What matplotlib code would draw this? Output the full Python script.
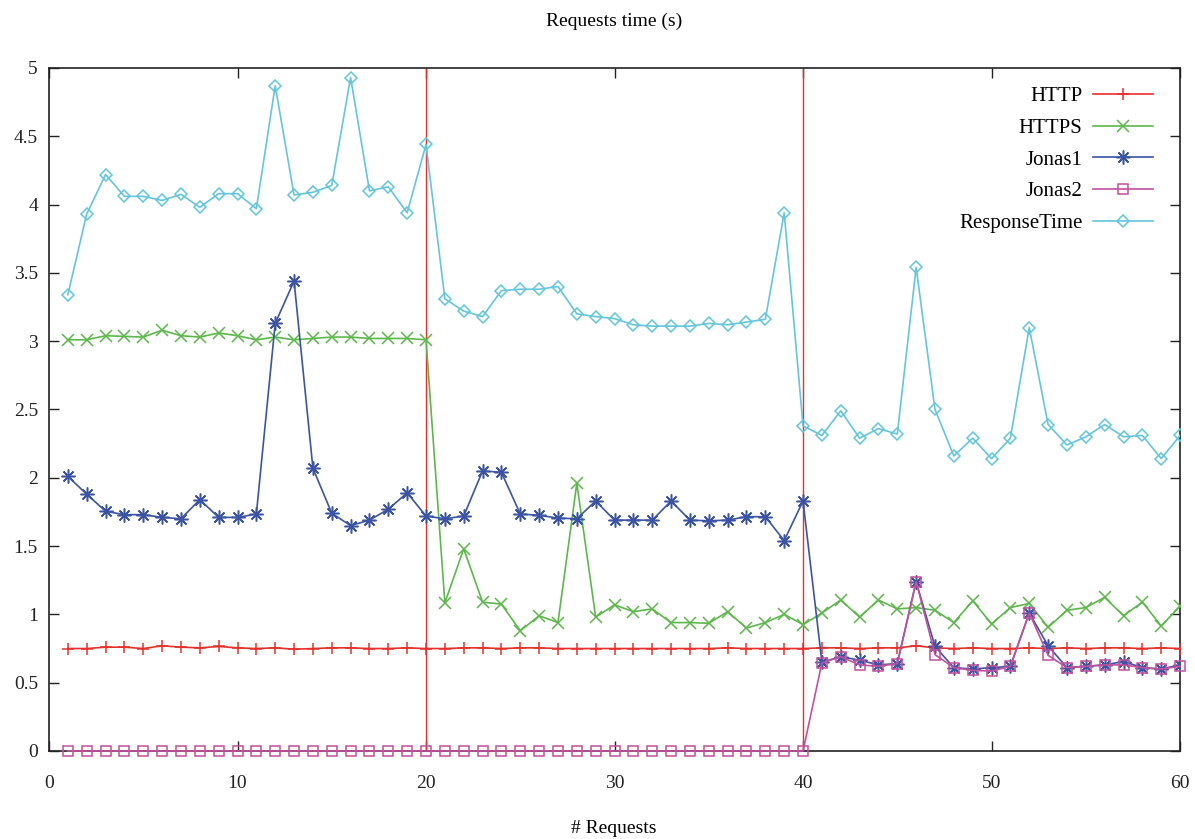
import matplotlib
matplotlib.use("Agg")
import matplotlib.pyplot as plt

plt.rcParams['font.family'] = ['Liberation Serif', 'DejaVu Serif']

x = list(range(1, 61))

http = [0.75, 0.75, 0.76, 0.76, 0.75, 0.77, 0.76, 0.755, 0.765, 0.755,
        0.75, 0.755, 0.745, 0.75, 0.755, 0.755, 0.75, 0.75, 0.755, 0.75,
        0.75, 0.755, 0.755, 0.75, 0.755, 0.755, 0.75, 0.75, 0.75, 0.75,
        0.75, 0.75, 0.75, 0.75, 0.75, 0.755, 0.75, 0.75, 0.75, 0.75,
        0.755, 0.755, 0.75, 0.755, 0.755, 0.77, 0.755, 0.75, 0.755, 0.75,
        0.75, 0.755, 0.75, 0.755, 0.75, 0.755, 0.755, 0.75, 0.755, 0.75]

https = [3.01, 3.01, 3.04, 3.035, 3.03, 3.08, 3.04, 3.03, 3.06, 3.04,
         3.01, 3.03, 3.01, 3.02, 3.03, 3.03, 3.02, 3.02, 3.02, 3.01,
         1.085, 1.48, 1.09, 1.075, 0.88, 0.99, 0.94, 1.96, 0.98, 1.07,
         1.02, 1.04, 0.94, 0.94, 0.935, 1.02, 0.90, 0.94, 1.00, 0.925,
         1.01, 1.105, 0.98, 1.105, 1.04, 1.05, 1.03, 0.94, 1.10, 0.93,
         1.05, 1.08, 0.905, 1.03, 1.05, 1.125, 0.99, 1.09, 0.915, 1.06]

jonas1 = [2.01, 1.88, 1.755, 1.73, 1.73, 1.71, 1.70, 1.84, 1.71, 1.71,
          1.735, 3.13, 3.44, 2.07, 1.74, 1.65, 1.69, 1.77, 1.89, 1.72,
          1.70, 1.72, 2.05, 2.04, 1.735, 1.725, 1.705, 1.70, 1.83, 1.69,
          1.69, 1.69, 1.83, 1.69, 1.685, 1.69, 1.715, 1.715, 1.54, 1.83,
          0.65, 0.69, 0.665, 0.63, 0.64, 1.24, 0.765, 0.61, 0.60, 0.61,
          0.62, 1.01, 0.77, 0.61, 0.62, 0.63, 0.655, 0.61, 0.60, 0.63]

jonas2 = [0.0] * 40 + [0.645, 0.69, 0.63, 0.62, 0.64, 1.24, 0.705, 0.61, 0.59, 0.585,
                       0.62, 1.01, 0.70, 0.61, 0.62, 0.63, 0.63, 0.61, 0.60, 0.62]

response = [3.34, 3.93, 4.22, 4.06, 4.06, 4.03, 4.075, 3.98, 4.08, 4.08,
            3.97, 4.87, 4.07, 4.09, 4.14, 4.93, 4.10, 4.13, 3.94, 4.44,
            3.31, 3.22, 3.18, 3.37, 3.38, 3.38, 3.40, 3.20, 3.18, 3.165,
            3.12, 3.11, 3.11, 3.11, 3.13, 3.12, 3.14, 3.16, 3.94, 2.38,
            2.31, 2.49, 2.29, 2.36, 2.32, 3.54, 2.50, 2.16, 2.29, 2.14,
            2.29, 3.10, 2.39, 2.24, 2.30, 2.39, 2.30, 2.31, 2.14, 2.31]

separators = [20, 40]

c_http = '#e8302a'
c_https = '#5cb84a'
c_j1 = '#3b54a5'
c_j2 = '#c4509e'
c_rt = '#62c6dc'

fig = plt.figure(figsize=(11.95, 8.39), dpi=100)
ax = fig.add_axes([0.041, 0.1049, 0.9465, 0.8141])

for s in separators:
    ax.plot([s, s], [0, 5], color=c_http, lw=1.0, zorder=2)

lw = 1.2
ax.plot(x, http, color=c_http, lw=lw, marker='+', ms=9, mew=1.1, label='HTTP', zorder=3)
ax.plot(x, https, color=c_https, lw=lw, marker='x', ms=8, mew=1.1, label='HTTPS', zorder=3)
ax.plot(x, jonas1, color=c_j1, lw=lw, marker=(8, 2, 0), ms=10, mew=1.1, label='Jonas1', zorder=3)
ax.plot(x, jonas2, color=c_j2, lw=lw, marker='s', ms=7, mew=1.1, mfc='none', label='Jonas2', zorder=4, clip_on=False)
ax.plot(x, response, color=c_rt, lw=lw, marker='D', ms=6.3, mew=1.1, mfc='none', label='ResponseTime', zorder=4)

ax.set_xlim(0, 60)
ax.set_ylim(0, 5)
ax.set_xticks([0, 10, 20, 30, 40, 50, 60])
ax.set_yticks([0, 0.5, 1, 1.5, 2, 2.5, 3, 3.5, 4, 4.5, 5])
ax.set_yticklabels(['0', '0.5', '1', '1.5', '2', '2.5', '3', '3.5', '4', '4.5', '5'])
ax.tick_params(direction='in', length=7, width=1, top=True, right=True, labelsize=14, colors='#222222')
ax.tick_params(axis='x', pad=17)
ax.tick_params(axis='y', pad=8)
for sp in ax.spines.values():
    sp.set_linewidth(1.2)
    sp.set_color('#222222')

fig.text(0.514, 0.974, 'Requests time (s)', ha='center', va='center', fontsize=14)
fig.text(0.514, 0.0125, '# Requests', ha='center', va='center', fontsize=14)

leg = ax.legend(loc='upper right', markerfirst=False, frameon=False, fontsize=15,
                handlelength=2.9, handletextpad=0.5, labelspacing=0.58,
                borderaxespad=0.4, bbox_to_anchor=(0.991, 0.997))

fig.savefig('out.png', dpi=100)
